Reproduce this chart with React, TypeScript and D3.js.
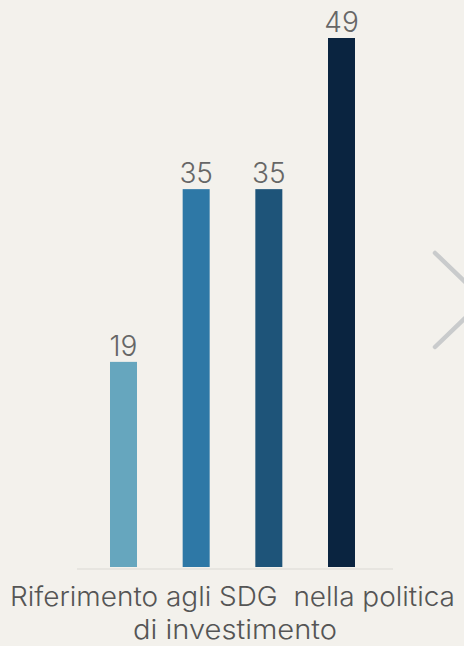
import * as d3 from "d3";

const series = ["s1", "s2", "s3", "s4"];
const values = [19, 35, 35, 49];
const colors = ["#66a6be", "#2e78a6", "#1e5479", "#0a2440"];
const captionLines = ["Riferimento agli SDG  nella politica", "di investimento"];

export default function App() {
  const width = 464;
  const height = 646;
  const baseline = 567;
  const barW = 27;

  const x = d3.scalePoint<string>().domain(series).range([123.5, 341.5]);
  const y = d3.scaleLinear().domain([0, 49]).range([baseline, 38]);

  const font = "Inter, 'Noto Sans', sans-serif";

  return (
    <svg
      width={width}
      height={height}
      style={{ position: "absolute", left: 0, top: 0, display: "block", background: "#f3f1ec" }}
    >
      <rect width={width} height={height} fill="#f3f1ec" />
      <line x1={77} x2={393} y1={baseline + 2} y2={baseline + 2} stroke="#e3e1dc" strokeWidth={1.5} />
      {values.map((v, i) => {
        const cx = x(series[i])!;
        return (
          <g key={series[i]}>
            <rect x={cx - barW / 2} y={y(v)} width={barW} height={baseline - y(v)} fill={colors[i]} />
            <text
              x={cx}
              y={y(v) - 6}
              textAnchor="middle"
              fontFamily={font}
              fontWeight={300}
              fontSize={28}
              fill="#666"
            >
              {v}
            </text>
          </g>
        );
      })}
      <text
        x={232.5}
        y={606}
        textAnchor="middle"
        fontFamily={font}
        fontWeight={300}
        fontSize={27}
        fill="#555"
        textLength={445}
        lengthAdjust="spacingAndGlyphs"
        style={{ whiteSpace: "pre" }}
      >
        {captionLines[0]}
      </text>
      <text
        x={235}
        y={639}
        textAnchor="middle"
        fontFamily={font}
        fontWeight={300}
        fontSize={27}
        fill="#555"
        textLength={204}
        lengthAdjust="spacingAndGlyphs"
      >
        {captionLines[1]}
      </text>
      <polyline
        points="435,253 484,300 435,347"
        fill="none"
        stroke="#c9cbcc"
        strokeWidth={4.5}
        strokeLinecap="round"
        strokeLinejoin="round"
      />
    </svg>
  );
}
